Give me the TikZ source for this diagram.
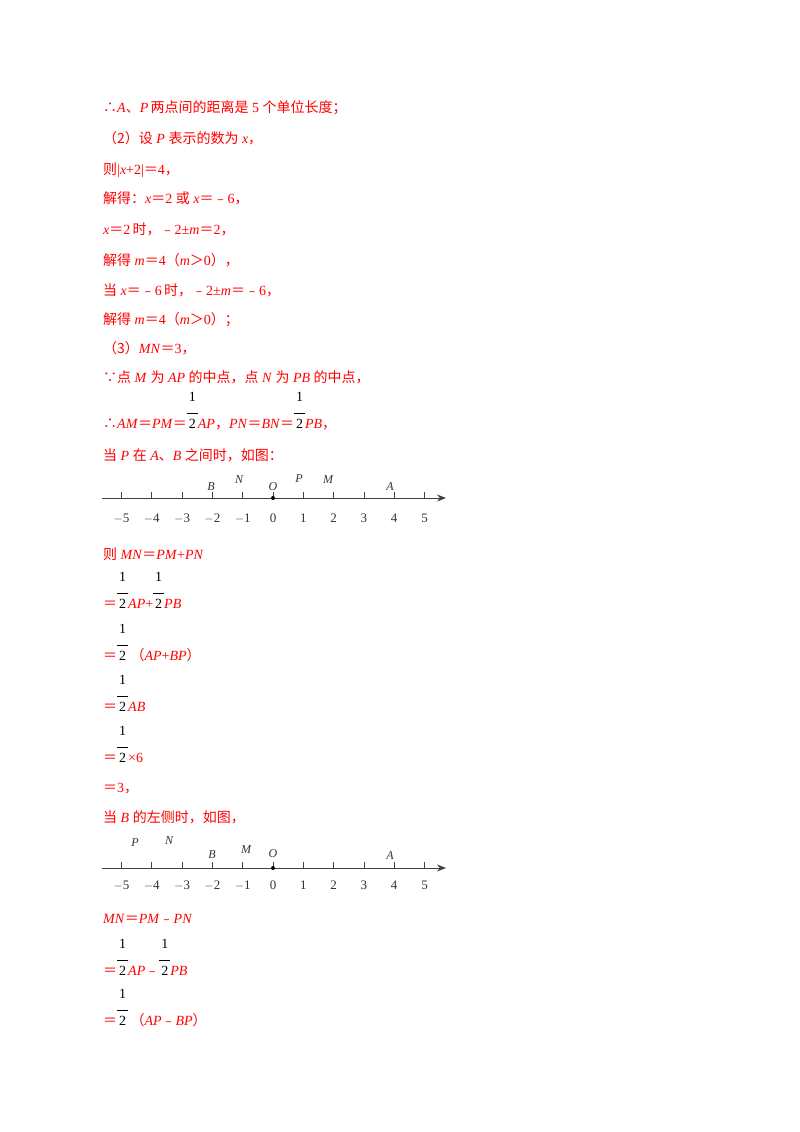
\documentclass[tikz,border=0pt]{standalone}
\usepackage{fontspec}
\usetikzlibrary{arrows.meta}
\setmainfont{Liberation Serif}
\newfontfamily\cjk{Noto Sans CJK SC}
\newcommand\zh[1]{{\cjk #1}}
\newcommand\hf{{\color{black}\begin{tabular}[b]{@{}c@{}}1\\[-3pt]\rule{11pt}{0.6pt}\\[-2pt]2\end{tabular}}}
\begin{document}
\begin{tikzpicture}[x=1pt,y=-1pt,
  tx/.style={anchor=base west,inner sep=0,text=red,font=\fontsize{14}{16}\selectfont},
  lab/.style={anchor=base,inner sep=0,text=black!80,font=\fontsize{12}{14}\selectfont\itshape},
  num/.style={anchor=base,inner sep=0,text=black!80,font=\fontsize{13}{14}\selectfont},
  axis/.style={line width=0.8pt,black!75,-{Stealth[length=9pt,width=7pt]}}]
\useasboundingbox (0,0) rectangle (800,1132);
\node[tx] (l1) at (103,112) {\zh{∴}\textit{A}\zh{、}\textit{P}\,\zh{两点间的距离是} 5 \zh{个单位长度；}};
\node[tx] (l2) at (103,143) {\zh{（2）设} \textit{P} \zh{表示的数为} \textit{x}\zh{，}};
\node[tx] (l3) at (103,174) {\zh{则}|\textit{x}+2|\zh{＝}4\zh{，}};
\node[tx] (l4) at (103,203) {\zh{解得：}\textit{x}\zh{＝}2 \zh{或} \textit{x}\zh{＝﹣}6\zh{，}};
\node[tx] (l5) at (103,234) {\textit{x}\zh{＝}2\,\zh{时，﹣}2±\textit{m}\zh{＝}2\zh{，}};
\node[tx] (l6) at (103,265) {\zh{解得} \textit{m}\zh{＝}4\zh{（}\textit{m}\zh{＞}0\zh{），}};
\node[tx] (l7) at (103,295) {\zh{当} \textit{x}\zh{＝﹣}6\,\zh{时，﹣}2±\textit{m}\zh{＝﹣}6\zh{，}};
\node[tx] (l8) at (103,324) {\zh{解得} \textit{m}\zh{＝}4\zh{（}\textit{m}\zh{＞}0\zh{）；}};
\node[tx] (l9) at (103,353) {\zh{（3）}\textit{MN}\zh{＝}3\zh{，}};
\node[tx] (l10) at (103,382) {\zh{∵点} \textit{M} \zh{为} \textit{AP} \zh{的中点，点} \textit{N} \zh{为} \textit{PB} \zh{的中点，}};
\node[tx] (l11) at (103,428) {\zh{∴}\textit{AM}\zh{＝}\textit{PM}\zh{＝}\hf\textit{AP}\zh{，}\textit{PN}\zh{＝}\textit{BN}\zh{＝}\hf\textit{PB}\zh{，}};
\node[tx] (l12) at (103,460) {\zh{当} \textit{P} \zh{在} \textit{A}\zh{、}\textit{B} \zh{之间时，如图：}};
% number line 1
\coordinate (a1s) at (102,498); \coordinate (a1e) at (446,498);
\draw[axis] (a1s) -- (a1e);
\foreach \i in {-5,...,5}{
  \draw[black!75,line width=0.8pt] (273+30.3*\i,498) -- (273+30.3*\i,492);
  \node[num] at (273+30.3*\i,522) {\ifnum\i<0 $-$\the\numexpr-\i\relax\else\i\fi};}
\fill (273,498) circle (2pt);
\node[lab] (b1) at (211,490) {B};
\node[lab] (n1) at (239,483) {N};
\node[lab] (o1) at (273,490) {O};
\node[lab] (p1) at (299,482) {P};
\node[lab] (m1) at (328,483) {M};
\node[lab] (aa1) at (390,490) {A};
\node[tx] (m1l) at (103,559) {\zh{则} \textit{MN}\zh{＝}\textit{PM}+\textit{PN}};
\node[tx] (m2l) at (103,608) {\zh{＝}\hf\textit{AP}+\hf\textit{PB}};
\node[tx] (m3l) at (103,660) {\zh{＝}\hf\,\zh{（}\textit{AP}+\textit{BP}\zh{）}};
\node[tx] (m4l) at (103,711) {\zh{＝}\hf\textit{AB}};
\node[tx] (m5l) at (103,762) {\zh{＝}\hf×6};
\node[tx] (m6l) at (103,792) {\zh{＝}3\zh{，}};
\node[tx] (m7l) at (103,822) {\zh{当} \textit{B} \zh{的左侧时，如图，}};
% number line 2
\coordinate (a2s) at (102,868); \coordinate (a2e) at (446,868);
\draw[axis] (a2s) -- (a2e);
\foreach \i in {-5,...,5}{
  \draw[black!75,line width=0.8pt] (273+30.3*\i,868) -- (273+30.3*\i,862);
  \node[num] at (273+30.3*\i,889) {\ifnum\i<0 $-$\the\numexpr-\i\relax\else\i\fi};}
\fill (273,868) circle (2pt);
\node[lab] (p2) at (135,846) {P};
\node[lab] (n2) at (169,844) {N};
\node[lab] (b2) at (212,858) {B};
\node[lab] (m2) at (246,853) {M};
\node[lab] (o2) at (273,857) {O};
\node[lab] (aa2) at (390,859) {A};
\node[tx] (q1) at (103,923) {\textit{MN}\zh{＝}\textit{PM}\zh{﹣}\textit{PN}};
\node[tx] (q2) at (103,975) {\zh{＝}\hf\textit{AP}\zh{﹣}\hf\textit{PB}};
\node[tx] (q3) at (103,1025) {\zh{＝}\hf\,\zh{（}\textit{AP}\zh{﹣}\textit{BP}\zh{）}};
\end{tikzpicture}
\end{document}
